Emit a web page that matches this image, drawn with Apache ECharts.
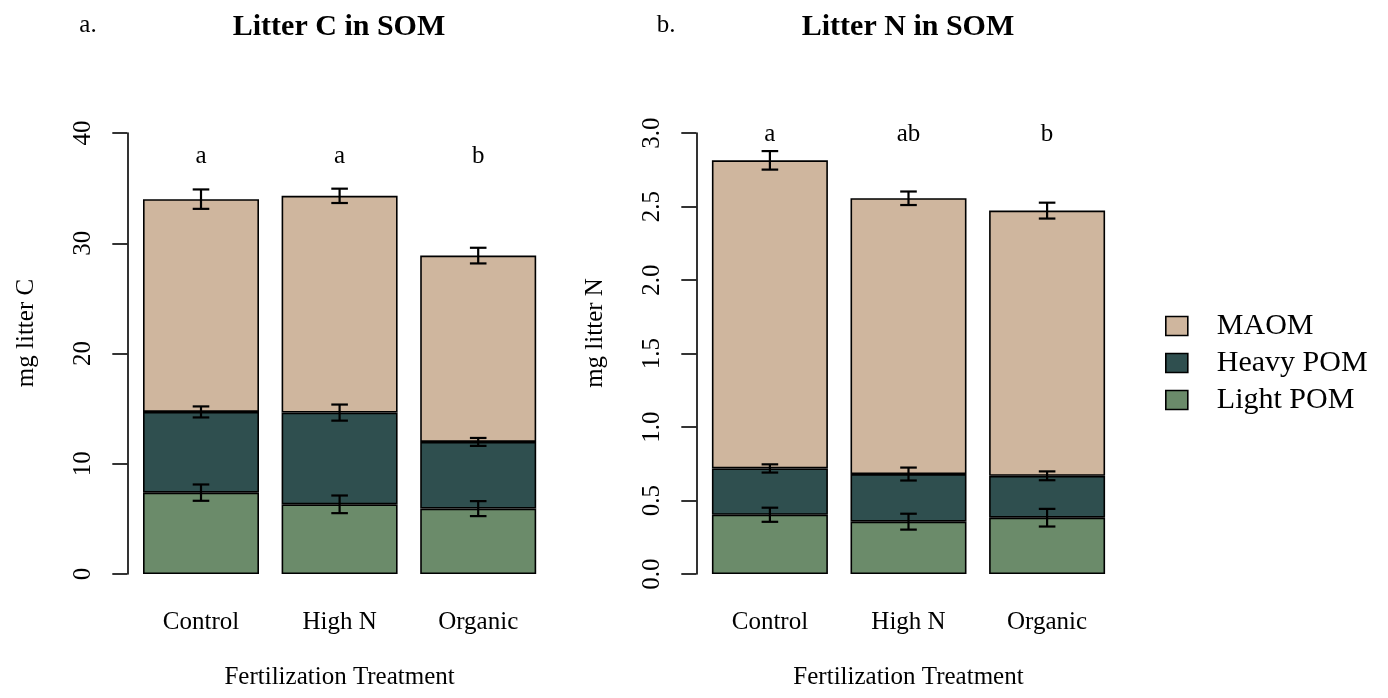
<!DOCTYPE html>
<html>
<head>
<meta charset="utf-8">
<script src="https://cdn.jsdelivr.net/npm/echarts@6/dist/echarts.min.js"></script>
<style>
html,body{margin:0;padding:0;background:#ffffff;}
#chart{width:1388px;height:698px;}
</style>
</head>
<body>
<div id="chart"></div>
<script>
// ---------------- data ----------------
const categories = ['Control', 'High N', 'Organic'];
const fractionNames = ['Light POM', 'Heavy POM', 'MAOM'];   // stacking order, bottom to top
const legendOrder = ['MAOM', 'Heavy POM', 'Light POM'];

// Panel a: litter C (mg), segment values
const lightC = [7.38, 6.32, 5.93];
const heavyC = [7.32, 8.32, 6.05];
const maomC  = [19.30, 19.66, 16.90];
const seLightC = [0.74, 0.80, 0.68];
const seHeavyC = [0.50, 0.73, 0.36];
const seMaomC  = [0.88, 0.65, 0.71];
const lettersC = ['a', 'a', 'b'];
const letterLevelC = 38;
const yMinC = 0, yMaxC = 40, yStepC = 10;

// Panel b: litter N (mg), segment values
const lightN = [0.403, 0.356, 0.383];
const heavyN = [0.315, 0.324, 0.285];
const maomN  = [2.096, 1.876, 1.804];
const seLightN = [0.048, 0.054, 0.060];
const seHeavyN = [0.028, 0.044, 0.030];
const seMaomN  = [0.063, 0.046, 0.054];
const lettersN = ['a', 'ab', 'b'];
const letterLevelN = 3.0;
const yMinN = 0, yMaxN = 3, yStepN = 0.5;

const panelTitles = ['Litter C in SOM', 'Litter N in SOM'];
const panelTags = ['a.', 'b.'];
const yNames = ['mg litter C', 'mg litter N'];
const xName = 'Fertilization Treatment';

// ---------------- style ----------------
const FONT = "'Liberation Serif','Times New Roman',serif";
const fillColors = { 'Light POM': '#6B8B6A', 'Heavy POM': '#2F4F4F', 'MAOM': '#CFB69E' };

const panels = [
  { segs: [lightC, heavyC, maomC], ses: [seLightC, seHeavyC, seMaomC], letters: lettersC, level: letterLevelC,
    min: yMinC, max: yMaxC, step: yStepC, fmt: v => String(v),
    gridLeft: 131.7, axisOffset: 4.4 },
  { segs: [lightN, heavyN, maomN], ses: [seLightN, seHeavyN, seMaomN], letters: lettersN, level: letterLevelN,
    min: yMinN, max: yMaxN, step: yStepN, fmt: v => v.toFixed(1),
    gridLeft: 700.6, axisOffset: 4.3 }
];

const grids = [], xAxes = [], yAxes = [], series = [];

panels.forEach((p, pi) => {
  grids.push({ left: p.gridLeft, top: 133, width: 415.8, height: 441 });
  xAxes.push({
    type: 'category', gridIndex: pi, data: categories,
    axisLine: { show: false }, axisTick: { show: false },
    axisLabel: { color: '#000', fontFamily: FONT, fontSize: 25, margin: 36 },
    name: xName, nameLocation: 'middle', nameGap: 91,
    nameTextStyle: { color: '#000', fontFamily: FONT, fontSize: 25 }
  });
  yAxes.push({
    type: 'value', gridIndex: pi, min: p.min, max: p.max, interval: p.step,
    offset: p.axisOffset,
    axisLine: { show: true, lineStyle: { color: '#000', width: 1.6 } },
    axisTick: { show: true, length: 15, lineStyle: { color: '#000', width: 1.6 } },
    splitLine: { show: false },
    axisLabel: { rotate: 90, margin: 31, color: '#000', fontFamily: FONT, fontSize: 25, formatter: p.fmt }
  });

  // stacked bars
  fractionNames.forEach((nm, si) => {
    series.push({
      name: nm, type: 'bar', stack: 'panel' + pi,
      xAxisIndex: pi, yAxisIndex: pi,
      data: p.segs[si], barWidth: 116,
      itemStyle: { color: fillColors[nm], borderColor: '#000', borderWidth: 1.6 },
      emphasis: { disabled: true },
      z: 2
    });
  });

  // error bars at the top of each segment
  const errData = [];
  const cum = categories.map(() => 0);
  fractionNames.forEach((nm, si) => {
    categories.forEach((c, ci) => {
      cum[ci] += p.segs[si][ci];
      errData.push([ci, cum[ci], p.ses[si][ci]]);
    });
  });
  series.push({
    type: 'custom', xAxisIndex: pi, yAxisIndex: pi, z: 5,
    data: errData, encode: { x: 0, y: 1 },
    renderItem: (params, api) => {
      const x = api.value(0), top = api.value(1), se = api.value(2);
      const hi = api.coord([x, top + se]);
      const lo = api.coord([x, top - se]);
      const cap = 8.3;
      const st = { stroke: '#000', lineWidth: 2.2 };
      return {
        type: 'group',
        children: [
          { type: 'line', shape: { x1: hi[0], y1: hi[1], x2: lo[0], y2: lo[1] }, style: st },
          { type: 'line', shape: { x1: hi[0] - cap, y1: hi[1], x2: hi[0] + cap, y2: hi[1] }, style: st },
          { type: 'line', shape: { x1: lo[0] - cap, y1: lo[1], x2: lo[0] + cap, y2: lo[1] }, style: st }
        ]
      };
    }
  });

  // significance letters
  series.push({
    type: 'custom', xAxisIndex: pi, yAxisIndex: pi, z: 5,
    data: categories.map((c, ci) => [ci, p.level]), encode: { x: 0, y: 1 },
    renderItem: (params, api) => {
      const pt = api.coord([api.value(0), api.value(1)]);
      return {
        type: 'text', x: pt[0], y: pt[1] + 1,
        style: { text: p.letters[params.dataIndex], fill: '#000', fontFamily: FONT, fontSize: 25,
                 align: 'center', verticalAlign: 'middle' }
      };
    }
  });
});

const graphics = [
  { type: 'text', x: 339, y: 27, style: { text: panelTitles[0], fill: '#000', fontFamily: FONT, fontSize: 30, fontWeight: 'bold', align: 'center', verticalAlign: 'middle' } },
  { type: 'text', x: 908, y: 27, style: { text: panelTitles[1], fill: '#000', fontFamily: FONT, fontSize: 30, fontWeight: 'bold', align: 'center', verticalAlign: 'middle' } },
  { type: 'text', x: 88, y: 25, style: { text: panelTags[0], fill: '#000', fontFamily: FONT, fontSize: 25, align: 'center', verticalAlign: 'middle' } },
  { type: 'text', x: 666, y: 25, style: { text: panelTags[1], fill: '#000', fontFamily: FONT, fontSize: 25, align: 'center', verticalAlign: 'middle' } },
  { type: 'text', x: 26, y: 333, rotation: Math.PI / 2, style: { text: yNames[0], fill: '#000', fontFamily: FONT, fontSize: 25, align: 'center', verticalAlign: 'middle' } },
  { type: 'text', x: 595, y: 333, rotation: Math.PI / 2, style: { text: yNames[1], fill: '#000', fontFamily: FONT, fontSize: 25, align: 'center', verticalAlign: 'middle' } }
];

const chart = echarts.init(document.getElementById('chart'), null, { renderer: 'canvas' });
chart.setOption({
  backgroundColor: '#ffffff',
  animation: false,
  grid: grids,
  xAxis: xAxes,
  yAxis: yAxes,
  legend: {
    data: legendOrder, orient: 'vertical', left: 1165, top: 311, padding: 0,
    itemWidth: 22, itemHeight: 19, itemGap: 7, icon: 'rect', selectedMode: false,
    itemStyle: { borderColor: '#000', borderWidth: 1.6 },
    textStyle: { color: '#000', fontFamily: FONT, fontSize: 30, lineHeight: 30, padding: [0, 0, 0, 24] }
  },
  graphic: graphics,
  series: series
});
</script>
</body>
</html>
